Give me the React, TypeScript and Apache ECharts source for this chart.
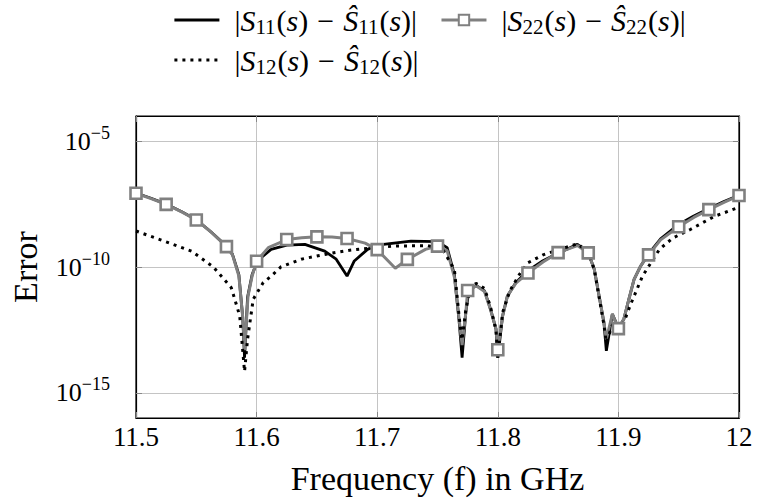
import React, { useEffect, useRef } from "react";
import * as echarts from "echarts";

// ---- Data ----
const freqS11 = [
  11.5, 11.5125, 11.525, 11.5375, 11.55, 11.5625, 11.575, 11.58, 11.5853, 11.5885, 11.59, 11.5925, 11.5963,
  11.6, 11.604, 11.612, 11.625, 11.64, 11.6565, 11.666, 11.675, 11.681, 11.692, 11.7, 11.728, 11.75, 11.758,
  11.764, 11.768, 11.7704, 11.7735, 11.776, 11.782, 11.789, 11.794, 11.7985, 11.8, 11.804, 11.808, 11.815,
  11.825, 11.8375, 11.85, 11.866, 11.875, 11.88, 11.884, 11.888, 11.89, 11.895, 11.9, 11.9045, 11.9087,
  11.913, 11.9185, 11.925, 11.935, 11.95, 11.9625, 11.975, 11.9875, 12.0,
];
const errS11 = [
  8.71e-8, 5.37e-8, 3.16e-8, 1.62e-8, 7.59e-9, 2.4e-9, 6.76e-10, 3.16e-10, 5.01e-11, 1e-12, 2.51e-14, 6.31e-12, 5.01e-11,
  1.41e-10, 2.4e-10, 5.01e-10, 7.41e-10, 7.94e-10, 4.27e-10, 2.04e-10, 4.37e-11, 1.74e-10, 5.01e-10, 7.41e-10, 1.07e-9, 1.02e-9, 5.89e-10,
  5.01e-11, 6.31e-13, 2.51e-14, 1.58e-12, 1.12e-11, 1.86e-11, 1.12e-11, 2.09e-12, 3.39e-13, 2.51e-14, 1.15e-12, 7.08e-12, 2.4e-11,
  7.08e-11, 1.78e-10, 3.55e-10, 7.94e-10, 3.72e-10, 8.13e-11, 7.08e-12, 6.17e-13, 4.68e-14, 1.35e-12, 3.72e-13, 8.51e-13, 5.25e-12,
  3.24e-11, 1.1e-10, 3.31e-10, 1.32e-9, 4.9e-9, 1.07e-8, 2.09e-8, 3.98e-8, 7.08e-8,
];

const freqS22 = [
  11.5, 11.5125, 11.525, 11.5375, 11.55, 11.5625, 11.575, 11.58, 11.5853, 11.5885, 11.59, 11.5929, 11.5963,
  11.6, 11.6097, 11.625, 11.6375, 11.65, 11.6625, 11.675, 11.69, 11.7, 11.715, 11.725, 11.74, 11.75, 11.758,
  11.764, 11.768, 11.7704, 11.7735, 11.775, 11.782, 11.789, 11.794, 11.7985, 11.8, 11.804, 11.808, 11.815,
  11.825, 11.8375, 11.85, 11.866, 11.875, 11.88, 11.884, 11.888, 11.89, 11.895, 11.9, 11.9045, 11.9087,
  11.913, 11.9185, 11.925, 11.935, 11.95, 11.9625, 11.975, 11.9875, 12.0,
];
const errS22 = [
  8.51e-8, 5.25e-8, 3.09e-8, 1.58e-8, 7.41e-9, 2.4e-9, 6.46e-10, 3.02e-10, 4.37e-11, 1e-12, 5.01e-14, 7.08e-12, 4.37e-11,
  1.7e-10, 5.89e-10, 1.23e-9, 1.45e-9, 1.58e-9, 1.55e-9, 1.35e-9, 8.91e-10, 4.9e-10, 8.91e-11, 2.0e-10, 5.01e-10, 6.76e-10, 4.47e-10,
  3.98e-11, 7.94e-13, 7.94e-14, 1.58e-12, 1.17e-11, 1.78e-11, 1.07e-11, 2.0e-12, 3.55e-13, 5.13e-14, 1.15e-12, 7.08e-12, 2.29e-11,
  5.75e-11, 1.58e-10, 3.72e-10, 7.08e-10, 3.63e-10, 8.13e-11, 7.08e-12, 6.31e-13, 1.35e-13, 1.35e-12, 3.55e-13, 8.51e-13, 5.25e-12,
  3.24e-11, 1.1e-10, 3.02e-10, 1.2e-9, 3.98e-9, 9.33e-9, 1.91e-8, 3.72e-8, 6.92e-8,
];
// frequencies where the S22 curve carries a square marker
const markerFreqS22 = [
  11.5, 11.525, 11.55, 11.575, 11.6, 11.625, 11.65, 11.675, 11.7, 11.725, 11.75, 11.775, 11.8, 11.825,
  11.85, 11.875, 11.9, 11.925, 11.95, 11.975, 12.0,
];

const freqS12 = [
  11.5, 11.521, 11.546, 11.564, 11.579, 11.586, 11.59, 11.5925, 11.5972, 11.6055, 11.6122, 11.62, 11.637,
  11.6565, 11.676, 11.692, 11.714, 11.742, 11.7543, 11.764, 11.768, 11.7703, 11.7735, 11.777, 11.782, 11.789,
  11.794, 11.7985, 11.8, 11.804, 11.81, 11.818, 11.825, 11.8375, 11.85, 11.866, 11.875, 11.88, 11.884, 11.888,
  11.89, 11.895, 11.9, 11.9045, 11.91, 11.92, 11.927, 11.934, 11.945, 11.96, 11.979, 11.997, 12.0,
];
const errS12 = [
  2.69e-9, 1.17e-9, 4.27e-10, 1.02e-10, 1.51e-11, 1.15e-12, 7.08e-15, 1.35e-13, 5.25e-12, 2.4e-11, 4.37e-11, 1.0e-10, 2.04e-10,
  3.16e-10, 4.57e-10, 5.5e-10, 6.76e-10, 7.08e-10, 5.01e-10, 7.94e-11, 1.0e-12, 1.26e-13, 2.0e-12, 1.41e-11, 2.24e-11, 1.41e-11,
  2.51e-12, 3.16e-13, 2.51e-14, 1.58e-12, 1.12e-11, 5.13e-11, 1.48e-10, 3.02e-10, 4.79e-10, 8.32e-10, 3.98e-10, 7.94e-11, 6.31e-12, 5.01e-13,
  1.0e-13, 5.01e-13, 3.16e-13, 6.31e-13, 3.16e-12, 4.37e-11, 1.48e-10, 5.01e-10, 1.41e-9, 3.16e-9, 1.0e-8, 2.09e-8, 2.34e-8,
];

const xMin = 11.5;
const xMax = 12;
const xInterval = 0.1;
const yMin = 1e-16;
const yMax = 1e-4;
const yTickValues = [1e-15, 1e-10, 1e-5];

const legendLabels: Record<string, string> = {
  S11: "11",
  S22: "22",
  S12: "12",
};

const FONT = "'Liberation Serif', 'DejaVu Serif', 'Times New Roman', serif";

export default function App() {
  const ref = useRef<HTMLDivElement>(null);

  useEffect(() => {
    if (!ref.current) return;
    const chart = echarts.init(ref.current, undefined, { renderer: "svg" });

    const legendRich = {
      n: { fontFamily: FONT, fontSize: 30, color: "#000" },
      i: { fontFamily: FONT, fontSize: 30, fontStyle: "italic", color: "#000" },
      m: { fontFamily: FONT, fontSize: 30, color: "#000", padding: [0, 9, 0, 9] },
      sub: { fontFamily: FONT, fontSize: 21, color: "#000", padding: [14, 1, 0, 0] },
    };
    const legendFormatter = (name: string) => {
      const k = legendLabels[name];
      return `{n||}{i|S}{sub|${k}}{n|(}{i|s}{n|)}{m|−}{i|Ŝ}{sub|${k}}{n|(}{i|s}{n|)|}`;
    };

    const yLabelFormatter = (v: number) => {
      const e = Math.round(Math.log10(v));
      return `{b|10}{s|${e < 0 ? "−" : ""}${Math.abs(e)}}`;
    };

    const isMarker = (f: number) => markerFreqS22.some((m) => Math.abs(m - f) < 1e-9);

    const baseX = {
      type: "value" as const,
      min: xMin,
      max: xMax,
      interval: xInterval,
    };
    const baseY = {
      type: "log" as const,
      logBase: 10,
      min: yMin,
      max: yMax,
    };

    const legendCommon = {
      left: 168,
      itemWidth: 45,
      itemHeight: 13,
      itemGap: 23,
      formatter: legendFormatter,
      lineStyle: { width: 2.8 },
      textStyle: { fontFamily: FONT, rich: legendRich, padding: [0, 0, 0, 10] },
      selectedMode: false,
    };

    chart.setOption({
      animation: false,
      backgroundColor: "#fff",
      textStyle: { fontFamily: FONT },
      grid: {
        left: 134,
        right: 18,
        top: 116,
        bottom: 83,
        show: true,
        borderColor: "#000",
        borderWidth: 1.2,
        backgroundColor: "transparent",
      },
      legend: [
        {
          ...legendCommon,
          top: 0,
          data: [
            { name: "S11", itemStyle: { opacity: 0 } },
            { name: "S22" },
          ],
        },
        {
          ...legendCommon,
          top: 40,
          data: [{ name: "S12", itemStyle: { opacity: 0 } }],
        },
      ],
      xAxis: [
        {
          ...baseX,
          position: "bottom",
          name: "Frequency (f) in GHz",
          nameLocation: "middle",
          nameGap: 43,
          nameTextStyle: { fontFamily: FONT, fontSize: 34, color: "#000" },
          axisLine: { show: true, lineStyle: { color: "#000", width: 1.2 } },
          axisTick: { show: true, inside: true, length: 6, lineStyle: { color: "#888" } },
          axisLabel: {
            fontFamily: FONT,
            fontSize: 27,
            color: "#000",
            margin: 5,
            formatter: (v: number) => String(+v.toFixed(1)),
          },
          splitLine: { show: true, lineStyle: { color: "#c4c4c4", width: 1 } },
        },
        {
          ...baseX,
          position: "top",
          axisLine: { show: true, lineStyle: { color: "#000", width: 1.2 } },
          axisTick: { show: true, inside: true, length: 6, lineStyle: { color: "#888" } },
          axisLabel: { show: false },
          splitLine: { show: false },
        },
      ],
      yAxis: [
        {
          ...baseY,
          position: "left",
          name: "Error",
          nameLocation: "middle",
          nameGap: 94,
          nameTextStyle: { fontFamily: FONT, fontSize: 34, color: "#000" },
          axisLine: { show: true, lineStyle: { color: "#000", width: 1.2 } },
          axisTick: { show: true, inside: true, length: 6, lineStyle: { color: "#888" }, customValues: yTickValues },
          axisLabel: {
            customValues: yTickValues,
            margin: 26,
            formatter: yLabelFormatter,
            rich: {
              b: { fontFamily: FONT, fontSize: 26, color: "#000" },
              s: { fontFamily: FONT, fontSize: 18, color: "#000", padding: [0, 0, 17, 0] },
            },
          },
          splitLine: { show: true, lineStyle: { color: "#c4c4c4", width: 1 } },
          minorTick: { show: false },
        },
        {
          ...baseY,
          position: "right",
          axisLine: { show: true, lineStyle: { color: "#000", width: 1.2 } },
          axisTick: { show: true, inside: true, length: 6, lineStyle: { color: "#888" }, customValues: yTickValues },
          axisLabel: { show: false, customValues: yTickValues },
          splitLine: { show: false },
        },
      ],
      series: [
        {
          name: "S11",
          type: "line",
          xAxisIndex: 0,
          yAxisIndex: 0,
          data: freqS11.map((f, i) => [f, errS11[i]]),
          showSymbol: false,
          symbol: "none",
          lineStyle: { color: "#000", width: 2.8 },
          itemStyle: { color: "#000" },
        },
        {
          name: "S22",
          type: "line",
          xAxisIndex: 0,
          yAxisIndex: 0,
          data: freqS22.map((f, i) =>
            isMarker(f) ? { value: [f, errS22[i]] } : { value: [f, errS22[i]], symbol: "none" }
          ),
          symbol: "rect",
          symbolSize: 11,
          showSymbol: true,
          lineStyle: { color: "#808080", width: 3 },
          itemStyle: { color: "#fff", borderColor: "#808080", borderWidth: 2.6 },
        },
        {
          name: "S12",
          type: "line",
          xAxisIndex: 0,
          yAxisIndex: 0,
          data: freqS12.map((f, i) => [f, errS12[i]]),
          showSymbol: false,
          symbol: "none",
          lineStyle: { color: "#000", width: 3, type: [3, 5] },
          itemStyle: { color: "#000" },
        },
      ],
    });

    return () => chart.dispose();
  }, []);

  return <div ref={ref} style={{ width: 757, height: 501, position: "absolute", left: 0, top: 0 }} />;
}
